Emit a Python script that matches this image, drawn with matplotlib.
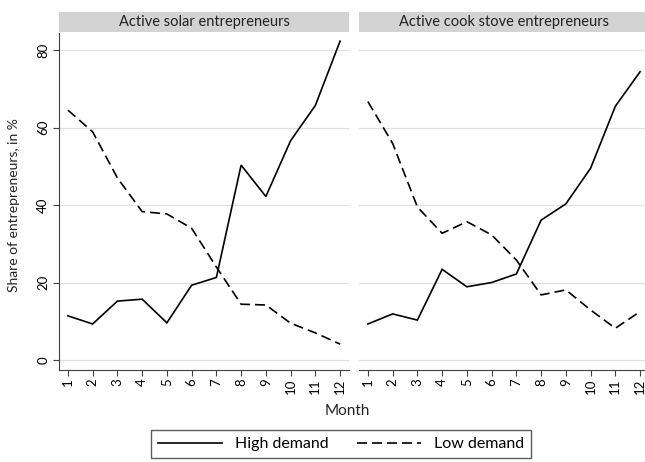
import numpy as np
import matplotlib
matplotlib.use("Agg")
import matplotlib.pyplot as plt
from matplotlib.patches import Rectangle
from matplotlib.lines import Line2D

plt.rcParams['font.family'] = ['Lato', 'DejaVu Sans']

months = list(range(1, 13))
panel_titles = ['Active solar entrepreneurs', 'Active cook stove entrepreneurs']

solar_high = [11.4, 9.3, 15.2, 15.7, 9.6, 19.3, 21.3, 50.3, 42.2, 56.6, 65.7, 82.3]
solar_low = [64.5, 58.9, 47.0, 38.3, 37.7, 34.0, 24.0, 14.4, 14.2, 9.5, 7.0, 4.1]
stove_high = [9.3, 11.9, 10.3, 23.4, 18.9, 20.0, 22.2, 36.1, 40.3, 49.5, 65.5, 74.4]
stove_low = [66.7, 55.9, 39.5, 32.7, 35.7, 32.3, 25.8, 16.8, 18.1, 12.9, 8.2, 12.5]

series = [(solar_high, solar_low), (stove_high, stove_low)]
yticks = [0, 20, 40, 60, 80]

W, H = 645, 462
fig = plt.figure(figsize=(W / 100, H / 100), dpi=100)
fig.patch.set_facecolor('white')

ax_w = 290 / W
ax_h = (370 - 33) / H
ax_bottom = 1 - 370 / H
lefts = [59 / W, 359 / W]
dash = (6, 3)

for i, (left, title, (hi, lo)) in enumerate(zip(lefts, panel_titles, series)):
    ax = fig.add_axes([left, ax_bottom, ax_w, ax_h])
    ax.set_facecolor('white')
    ax.plot(months, hi, color='black', linewidth=1.2, solid_joinstyle='miter')
    ax.plot(months, lo, color='black', linewidth=1.2, linestyle=(0, dash))
    ax.set_xlim(0.64, 12.36)
    ax.set_ylim(-2.58, 84.4)
    ax.set_xticks(months)
    ax.set_xticklabels([str(m) for m in months], rotation=90, fontsize=9.5)
    ax.set_yticks(yticks)
    ax.grid(axis='y', color='#e0e0e0', linewidth=0.9)
    ax.set_axisbelow(True)
    for s in ['top', 'right']:
        ax.spines[s].set_visible(False)
    ax.spines['bottom'].set_color('#404040')
    ax.spines['left'].set_color('#404040')
    ax.tick_params(axis='x', length=4, color='#404040', pad=2)
    if i == 0:
        ax.set_yticklabels([str(t) for t in yticks], rotation=90, va='center', fontsize=9.5)
        ax.tick_params(axis='y', length=4, color='#404040', pad=3)
    else:
        ax.spines['left'].set_visible(False)
        ax.tick_params(axis='y', length=0, labelleft=False)
    # gray strip header
    fig.patches.append(Rectangle((left, 1 - 32 / H), ax_w, 20 / H, transform=fig.transFigure,
                                 facecolor='#d3d3d3', edgecolor='none'))
    fig.text(left + ax_w / 2, 1 - 22 / H, title, ha='center', va='center', fontsize=10.5, color='#222222')

fig.text(14 / W, 1 - 205 / H, 'Share of entrepreneurs, in %', rotation=90,
         ha='center', va='center', fontsize=10, color='#222222')
fig.text(347 / W, 1 - 411 / H, 'Month', ha='center', va='center', fontsize=11, color='#222222')

handles = [Line2D([], [], color='black', linewidth=1.2),
           Line2D([], [], color='black', linewidth=1.2, linestyle=(0, dash))]
leg = fig.legend(handles, ['High demand', 'Low demand'], loc='center', ncol=2,
                 bbox_to_anchor=(341 / W, 1 - 444 / H), frameon=True, fancybox=False,
                 edgecolor='#333333', fontsize=11.5, handlelength=4.0, columnspacing=1.8,
                 handletextpad=0.8, borderpad=0.45)
leg.get_frame().set_linewidth(1.0)

fig.savefig('out.png', dpi=100)
